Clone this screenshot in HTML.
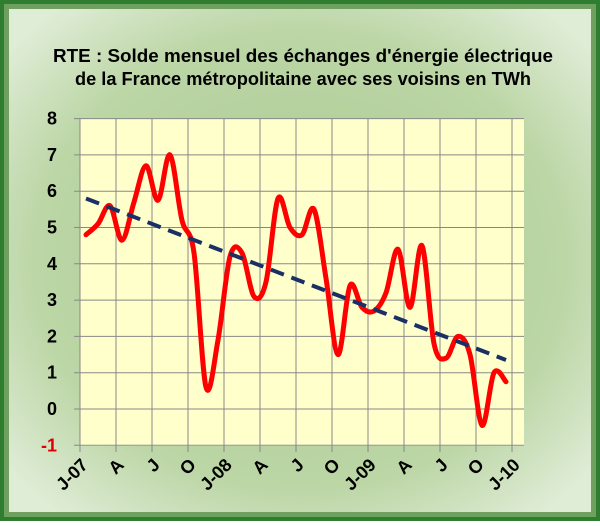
<!DOCTYPE html>
<html><head><meta charset="utf-8"><style>
html,body{margin:0;padding:0;background:#fff}
</style></head><body>
<svg id="s" width="600" height="521" xmlns="http://www.w3.org/2000/svg" font-family="Liberation Sans, sans-serif">
<defs>
<radialGradient id="bg" cx="50%" cy="50%" r="65%">
<stop offset="0" stop-color="#a9c98f"/><stop offset="0.7" stop-color="#bcd6a6"/><stop offset="1" stop-color="#dfecd6"/>
</radialGradient>
</defs>
<rect x="0" y="0" width="600" height="521" fill="#2f7d2f"/>
<rect x="4" y="4" width="592" height="513" fill="#6fa05f"/>
<rect x="9" y="9" width="582" height="503" fill="url(#bg)"/>
<rect x="80" y="119" width="444" height="327" fill="#ffffcc"/>
<g id="grid" stroke="#888" stroke-width="1"></g>
<g font-weight="bold" font-size="18" fill="#000" text-anchor="middle">
<text x="303" y="62" textLength="500" lengthAdjust="spacingAndGlyphs">RTE : Solde mensuel des échanges  d'énergie électrique</text>
<text x="303" y="85" textLength="456" lengthAdjust="spacingAndGlyphs">de la France métropolitaine avec ses voisins en TWh</text>
</g>
<g id="ylab" font-weight="bold" font-size="18" text-anchor="end"></g>
<g id="xlab" font-weight="bold" font-size="18"></g>
<path id="red" fill="none" stroke="#ff0000" stroke-width="5" stroke-linejoin="round" stroke-linecap="round"/>
<line x1="86" y1="198.5" x2="506" y2="360" stroke="#1a2f66" stroke-width="4" stroke-dasharray="14,8"/>
</svg>
<script>
var ns="http://www.w3.org/2000/svg";
function Y(v){return 409-36.3*v;}
var g=document.getElementById('grid');
for(var v=-1;v<=8;v++){var l=document.createElementNS(ns,'line');l.setAttribute('x1',74);l.setAttribute('x2',524);l.setAttribute('y1',Y(v));l.setAttribute('y2',Y(v));g.appendChild(l);
var t=document.createElementNS(ns,'text');t.setAttribute('x',57);t.setAttribute('y',Y(v)+6);t.textContent=v;t.setAttribute('fill',v<0?'#e00000':'#000');document.getElementById('ylab').appendChild(t);}
var labs=['J-07','A','J','O','J-08','A','J','O','J-09','A','J','O','J-10'];
for(var i=0;i<=12;i++){var x=80+36*i;var l=document.createElementNS(ns,'line');l.setAttribute('x1',x);l.setAttribute('x2',x);l.setAttribute('y1',119);l.setAttribute('y2',452);g.appendChild(l);
var t=document.createElementNS(ns,'text');t.setAttribute('text-anchor','end');t.setAttribute('transform','translate('+(x+9)+',466) rotate(-45)');t.textContent=labs[i];document.getElementById('xlab').appendChild(t);}
var d=[4.8,5.1,5.6,4.65,5.7,6.7,5.75,7.0,5.2,4.3,0.6,1.9,4.2,4.3,3.1,3.5,5.8,5.0,4.8,5.5,3.6,1.5,3.4,2.8,2.7,3.2,4.4,2.8,4.5,1.8,1.4,2.0,1.5,-0.45,1.0,0.75];
var p=d.map(function(v,i){return [86+12*i,Y(v)];});
var s='M'+p[0][0]+','+p[0][1];
for(var i=0;i<p.length-1;i++){var p0=p[i-1]||p[i],p1=p[i],p2=p[i+1],p3=p[i+2]||p2;var k=1/6;
s+=' C'+(p1[0]+(p2[0]-p0[0])*k)+','+(p1[1]+(p2[1]-p0[1])*k)+' '+(p2[0]-(p3[0]-p1[0])*k)+','+(p2[1]-(p3[1]-p1[1])*k)+' '+p2[0]+','+p2[1];}
document.getElementById('red').setAttribute('d',s);
</script>
</body></html>
